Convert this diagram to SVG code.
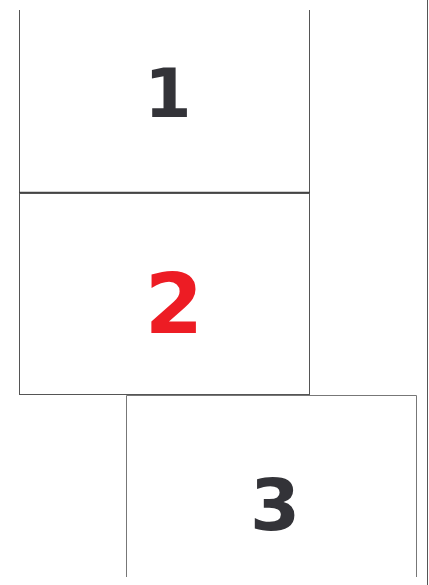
<svg xmlns="http://www.w3.org/2000/svg" width="429" height="585" viewBox="0 0 429 585">
<style>
.ln{fill:none;stroke:#555;stroke-width:1}
.lt{fill:none;stroke:#777;stroke-width:1}
.num{font-family:"DejaVu Sans",sans-serif;font-weight:bold;text-anchor:middle}
</style>
<rect width="429" height="585" fill="#fff"/>
<g id="node1">
<path class="ln" d="M19.5 10V192.5H309.5V10"/>
<line x1="19" y1="192.5" x2="310" y2="192.5" stroke="#444" stroke-width="1.5"/>
<text class="num" x="168" y="117" font-size="68" fill="#333338">1</text>
</g>
<g id="node2">
<rect class="ln" x="19.5" y="193.5" width="290" height="201"/>
<text class="num" x="174" y="333" font-size="84" fill="#ed1c24">2</text>
</g>
<g id="node3">
<path class="lt" d="M126.5 577V395.5H416.5V577"/>
<text class="num" x="275" y="530" font-size="72" fill="#333338">3</text>
</g>
<g id="connectors">
<line class="ln" x1="427.5" y1="0" x2="427.5" y2="585"/>
</g>
</svg>
